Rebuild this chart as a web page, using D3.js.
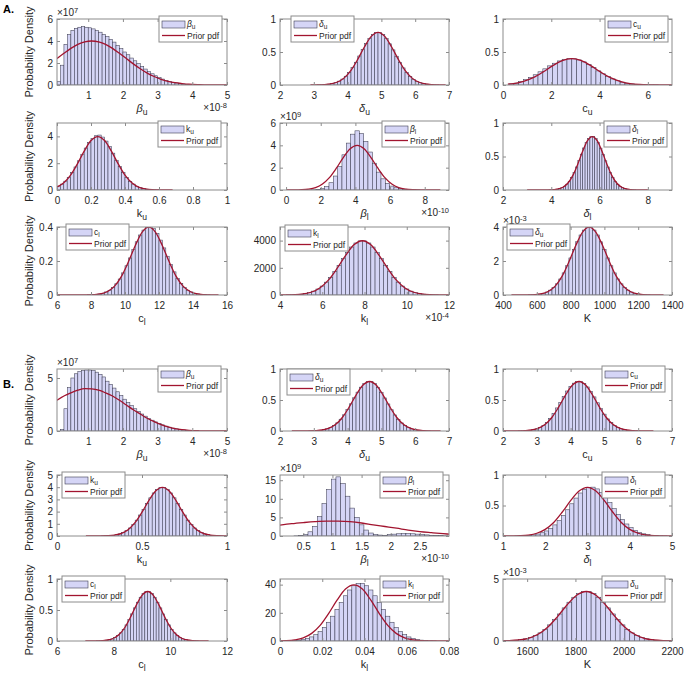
<!DOCTYPE html>
<html><head><meta charset="utf-8">
<script src="https://cdn.jsdelivr.net/npm/d3@7"></script>
<style>
body{margin:0;background:#fff;}
svg{font-family:"Liberation Sans",Arial,Helvetica,sans-serif;}
</style></head><body>
<svg id="c" width="685" height="674"></svg>
<script>
// ---------------- DATA ----------------
// Section A histograms (bin start, bin width, heights)
const hA_bu = [0.3,1.8,3.7,4.6,4.95,5.15,5.25,5.3,5.25,5.2,5.1,4.95,4.8,4.6,4.4,4.15,3.9,3.6,3.3,3.0,2.75,2.45,2.2,1.95,1.7,1.45,1.22,1.02,0.84,0.68,0.54,0.42,0.32,0.24,0.18,0.13,0.09,0.06,0.04,0.03,0.02];
const hA_du = [.002,.003,.006,.012,.022,.036,.058,.09,.133,.19,.262,.345,.44,.535,.628,.708,.766,.797,.795,.764,.703,.624,.532,.436,.343,.259,.188,.13,.087,.056,.034,.02,.012,.006,.003,.001];
const hA_cu = [.018,.028,.05,.08,.115,.155,.2,.245,.29,.33,.365,.39,.40,.398,.38,.35,.31,.262,.214,.17,.128,.092,.064,.043,.027,.017,.01,.006,.003,.002,.001];
const hA_ku = [.29,.44,.66,.95,1.3,1.72,2.18,2.67,3.13,3.55,3.85,4.05,4.1,3.95,3.65,3.25,2.75,2.22,1.74,1.3,.94,.65,.44,.28,.18,.1,.06,.03,.016,.008];
const hA_bl = [.005,.01,.02,.05,.12,.3,.65,1.25,2.1,3.15,4.2,5.0,5.3,5.05,4.35,3.4,2.4,1.6,1.0,.6,.35,.2,.12,.07,.04,.02,.01];
const hA_dl = [.001,.003,.006,.011,.02,.034,.056,.087,.13,.188,.26,.344,.438,.535,.627,.707,.766,.797,.796,.766,.706,.625,.533,.436,.343,.258,.187,.129,.086,.055,.034,.02,.011,.006,.003,.001];
const hA_cl = [.001,.002,.003,.006,.010,.018,.028,.044,.066,.094,.13,.172,.218,.267,.313,.353,.382,.398,.40,.39,.362,.323,.277,.228,.18,.136,.098,.068,.045,.028,.018,.010,.006,.003,.002,.001];
const hA_kl = [8,16,32,60,104,176,284,440,656,944,1300,1720,2184,2668,3132,3528,3824,3980,3980,3824,3528,3132,2668,2184,1720,1300,944,656,440,284,176,104,60,32,16,8];
const hA_K  = [.008,.016,.032,.06,.104,.176,.284,.44,.656,.944,1.3,1.72,2.18,2.67,3.13,3.53,3.82,3.98,3.98,3.82,3.53,3.13,2.67,2.18,1.72,1.3,.944,.656,.44,.284,.176,.104,.06,.032,.016,.008];
// Section B histograms
const hB_bu = [0.15,2.1,4.1,5.0,5.4,5.6,5.7,5.75,5.75,5.7,5.55,5.35,5.1,4.7,4.4,4.05,3.7,3.35,3.0,2.7,2.4,2.1,1.85,1.6,1.4,1.2,1.02,0.86,0.72,0.58,0.46,0.36,0.27,0.2,0.14,0.1,0.07,0.05,0.03,0.02];
const hB_du = [.002,.003,.006,.012,.021,.036,.058,.089,.132,.19,.261,.345,.438,.535,.627,.707,.766,.797,.796,.765,.705,.625,.533,.436,.343,.259,.188,.13,.087,.056,.034,.02,.011,.006,.003,.001];
const hB_cu = [.002,.003,.006,.012,.021,.035,.057,.09,.14,.205,.285,.372,.463,.555,.645,.72,.772,.798,.796,.765,.71,.64,.55,.455,.36,.272,.195,.135,.09,.058,.035,.021,.012,.006,.003,.002];
const hB_ku = [.008,.016,.032,.06,.104,.176,.284,.44,.656,.944,1.3,1.72,2.18,2.67,3.13,3.53,3.82,3.98,3.98,3.82,3.53,3.13,2.67,2.18,1.72,1.3,.944,.656,.44,.284,.176,.104,.06,.032,.016,.008];
const hB_bl = [0,0,0,.03,.13,.42,1.13,2.6,5.2,8.7,12.5,15.3,15.9,14.1,10.7,7.5,5.0,3.0,1.6,.8,.4,.25,.2,.35,.5,.6,.65,.65,.6,.5,.4,.3,.2,.15,.1,.05];
const hB_dl = [.001,.003,.005,.01,.019,.032,.053,.083,.125,.182,.252,.336,.43,.528,.622,.705,.766,.799,.801,.772,.715,.637,.546,.45,.356,.27,.197,.137,.092,.059,.036,.021,.012,.006,.003,.001];
const hB_cl = [.002,.003,.006,.012,.021,.035,.057,.088,.131,.189,.26,.344,.437,.534,.626,.706,.765,.796,.796,.765,.706,.626,.534,.437,.344,.26,.189,.131,.088,.057,.035,.021,.012,.006,.003,.002];
const hB_kl = [.08,.16,.33,.62,1.07,1.8,2.9,4.5,6.7,9.7,13.3,17.6,22.4,27.3,32.1,36.2,39.2,40.8,40.8,39.2,36.2,32.1,27.3,22.4,17.6,13.3,9.7,6.7,4.5,2.9,1.8,1.07,.62,.33,.16,.08];
const hB_K  = [.016,.032,.06,.104,.176,.284,.44,.656,.944,1.3,1.72,2.18,2.67,3.13,3.53,3.82,3.98,3.98,3.82,3.53,3.13,2.67,2.18,1.72,1.3,.944,.656,.44,.284,.176,.104,.06,.032,.016,.008];

// Prior pdf curves [x, y]
const pA_bu = [[0.1,2.4],[0.3,2.88],[0.5,3.33],[0.7,3.69],[0.9,3.92],[1.1,4.0],[1.3,3.92],[1.5,3.69],[1.7,3.33],[1.9,2.88],[2.1,2.4],[2.3,1.92],[2.5,1.47],[2.7,1.08],[2.9,0.77],[3.1,0.52],[3.3,0.34],[3.5,0.21],[3.7,0.13],[3.9,0.07],[4.2,0.03],[4.5,0.01],[5.0,0]];
const pA_du = [[2.9,.0002],[3.1,.0012],[3.3,.005],[3.5,.016],[3.7,.045],[3.9,.108],[4.1,.222],[4.3,.389],[4.5,.579],[4.7,.737],[4.9,.798],[5.1,.737],[5.3,.579],[5.5,.389],[5.7,.222],[5.9,.108],[6.1,.045],[6.3,.016],[6.5,.005],[6.7,.0012],[6.9,.0002]];
const pA_cu = [[0.2,.012],[0.45,.022],[0.85,.054],[1.25,.111],[1.65,.195],[2.05,.29],[2.45,.369],[2.85,.399],[3.25,.369],[3.65,.29],[4.05,.195],[4.45,.111],[4.85,.054],[5.25,.022],[5.65,.008],[6.05,.0024],[6.45,.0006],[6.85,.0001],[7.0,0]];
const pA_ku = [[0,.22],[0.04,.54],[0.08,1.11],[0.12,1.95],[0.16,2.9],[0.2,3.69],[0.24,3.99],[0.28,3.69],[0.32,2.9],[0.36,1.95],[0.4,1.11],[0.44,.54],[0.48,.22],[0.52,.08],[0.56,.024],[0.6,.006],[0.64,.001],[0.68,0]];
const pA_bl = [[0.05,.002],[0.5,.006],[0.9,.024],[1.3,.08],[1.7,.22],[2.1,.54],[2.5,1.11],[2.9,1.95],[3.3,2.9],[3.7,3.69],[4.1,3.99],[4.5,3.69],[4.9,2.9],[5.3,1.95],[5.7,1.11],[6.1,.54],[6.5,.22],[6.9,.08],[7.3,.024],[7.7,.006],[8.1,.001],[8.9,0]];
const pA_dl = [[3.0,0],[3.7,.0002],[3.9,.0012],[4.1,.005],[4.3,.016],[4.5,.045],[4.7,.108],[4.9,.222],[5.1,.389],[5.3,.579],[5.5,.737],[5.7,.798],[5.9,.737],[6.1,.579],[6.3,.389],[6.5,.222],[6.7,.108],[6.9,.045],[7.1,.016],[7.3,.005],[7.5,.0012],[7.7,.0002],[8.0,0]];
const pA_cl = [[6.0,0],[7.4,.0001],[7.8,.0006],[8.2,.0024],[8.6,.008],[9.0,.022],[9.4,.054],[9.8,.111],[10.2,.195],[10.6,.29],[11.0,.369],[11.4,.399],[11.8,.369],[12.2,.29],[12.6,.195],[13.0,.111],[13.4,.054],[13.8,.022],[14.2,.008],[14.6,.0024],[15.0,.0006],[15.5,0]];
const pA_kl = [[4.0,2],[4.3,6],[4.7,24],[5.1,80],[5.5,220],[5.9,540],[6.3,1110],[6.7,1950],[7.1,2900],[7.5,3690],[7.9,3990],[8.3,3690],[8.7,2900],[9.1,1950],[9.5,1110],[9.9,540],[10.3,220],[10.7,80],[11.1,24],[11.5,6],[12.0,1]];
const pA_K  = [[450,0],[510,.001],[550,.006],[590,.024],[630,.08],[670,.22],[710,.54],[750,1.11],[790,1.95],[830,2.9],[870,3.69],[910,3.99],[950,3.69],[990,2.9],[1030,1.95],[1070,1.11],[1110,.54],[1150,.22],[1190,.08],[1230,.024],[1270,.006],[1310,.001],[1350,0]];
const pB_bu = [[0.1,2.9],[0.3,3.3],[0.5,3.6],[0.7,3.85],[0.9,4.0],[1.1,3.97],[1.3,3.85],[1.5,3.6],[1.7,3.3],[1.9,2.9],[2.1,2.45],[2.3,2.0],[2.5,1.6],[2.7,1.2],[2.9,0.88],[3.1,0.6],[3.3,0.38],[3.5,0.22],[3.7,0.12],[3.9,0.06],[4.2,0.02],[4.5,0.005],[5.0,0]];
const pB_du = [[2.35,0],[2.65,.0002],[2.85,.0012],[3.05,.005],[3.25,.016],[3.45,.045],[3.65,.108],[3.85,.222],[4.05,.389],[4.25,.579],[4.45,.737],[4.65,.798],[4.85,.737],[5.05,.579],[5.25,.389],[5.45,.222],[5.65,.108],[5.85,.045],[6.05,.016],[6.25,.005],[6.45,.0012],[6.65,.0002],[6.75,0]];
const pB_cu = [[2.0,0],[2.25,.0002],[2.45,.0012],[2.65,.005],[2.85,.016],[3.05,.045],[3.25,.108],[3.45,.222],[3.65,.389],[3.85,.579],[4.05,.737],[4.25,.798],[4.45,.737],[4.65,.579],[4.85,.389],[5.05,.222],[5.25,.108],[5.45,.045],[5.65,.016],[5.85,.005],[6.05,.0012],[6.25,.0002],[6.45,0]];
const pB_ku = [[0.17,0],[0.22,.001],[0.26,.006],[0.3,.024],[0.34,.08],[0.38,.22],[0.42,.54],[0.46,1.11],[0.5,1.95],[0.54,2.9],[0.58,3.69],[0.62,3.99],[0.66,3.69],[0.7,2.9],[0.74,1.95],[0.78,1.11],[0.82,.54],[0.86,.22],[0.9,.08],[0.94,.024],[0.98,.006],[1.0,.003]];
const pB_bl = [[0.1,2.9],[0.3,3.3],[0.5,3.6],[0.7,3.85],[0.9,3.98],[1.1,3.98],[1.3,3.85],[1.5,3.5],[1.7,3.0],[1.9,2.55],[2.1,2.1],[2.3,1.6],[2.5,1.2],[2.7,0.9],[2.9,0.62],[3.0,0.5]];
const pB_dl = [[1.0,.0002],[1.2,.0012],[1.4,.005],[1.6,.016],[1.8,.045],[2.0,.108],[2.2,.222],[2.4,.389],[2.6,.579],[2.8,.737],[3.0,.798],[3.2,.737],[3.4,.579],[3.6,.389],[3.8,.222],[4.0,.108],[4.2,.045],[4.4,.016],[4.6,.005],[4.8,.0012],[5.0,.0002]];
const pB_cl = [[7.0,0],[7.2,.0002],[7.4,.0012],[7.6,.005],[7.8,.016],[8.0,.045],[8.2,.108],[8.4,.222],[8.6,.389],[8.8,.579],[9.0,.737],[9.2,.798],[9.4,.737],[9.6,.579],[9.8,.389],[10.0,.222],[10.2,.108],[10.4,.045],[10.6,.016],[10.8,.005],[11.0,.0012],[11.2,.0002],[11.35,0]];
const pB_kl = [[0,.09],[0.003,.24],[0.007,.8],[0.011,2.2],[0.015,5.4],[0.019,11.1],[0.023,19.5],[0.027,29],[0.031,36.9],[0.035,39.9],[0.039,36.9],[0.043,29],[0.047,19.5],[0.051,11.1],[0.055,5.4],[0.059,2.2],[0.063,.8],[0.067,.24],[0.071,.06],[0.075,.01],[0.08,0]];
const pB_K  = [[1500,.01],[1525,.024],[1565,.08],[1605,.22],[1645,.54],[1685,1.11],[1725,1.95],[1765,2.9],[1805,3.69],[1845,3.99],[1885,3.69],[1925,2.9],[1965,1.95],[2005,1.11],[2045,.54],[2085,.22],[2125,.08],[2165,.024],[2200,.007]];

// Tick labels
const xtA_bu=[1,2,3,4,5], ytA_bu=[0,2,4,6];
const xtA_du=[2,3,4,5,6,7], ytA_du=[0,0.5,1];
const xtA_cu=[0,2,4,6], ytA_cu=[0,0.5,1];
const xtA_ku=[0,0.2,0.4,0.6,0.8,1], ytA_ku=[0,2,4];
const xtA_bl=[0,2,4,6,8], ytA_bl=[0,2,4,6];
const xtA_dl=[2,4,6,8], ytA_dl=[0,0.5,1];
const xtA_cl=[6,8,10,12,14,16], ytA_cl=[0,0.2,0.4];
const xtA_kl=[4,6,8,10,12], ytA_kl=[0,2000,4000];
const xtA_K=[400,600,800,1000,1200,1400], ytA_K=[0,2,4];
const xtB_bu=[1,2,3,4,5], ytB_bu=[0,5];
const xtB_du=[2,3,4,5,6,7], ytB_du=[0,0.5,1];
const xtB_cu=[2,3,4,5,6,7], ytB_cu=[0,0.5,1];
const xtB_ku=[0,0.5,1], ytB_ku=[0,1,2,3,4,5];
const xtB_bl=[0.5,1,1.5,2,2.5], ytB_bl=[0,5,10,15];
const xtB_dl=[1,2,3,4,5], ytB_dl=[0,0.5,1];
const xtB_cl=[6,8,10,12], ytB_cl=[0,0.5,1];
const xtB_kl=[0,0.02,0.04,0.06,0.08], ytB_kl=[0,20,40];
const xtB_K=[1600,1800,2000,2200], ytB_K=[0,5];

// Labels: [symbol, subscript, italic]
const names = {bu:['β','u',1], du:['δ','u',1], cu:['c','u',0], ku:['k','u',0], bl:['β','l',1], dl:['δ','l',1], cl:['c','l',0], kl:['k','l',0], K:['K','',0]};

// ---------------- LAYOUT ----------------
const cols = [[57,227],[280,449],[503,672]];
const rows = [[19,85],[123,190],[227,295],[369,431],[475,536],[579,641]];

const panels = [
 {r:0,c:0,xd:[0.1,5],xt:xtA_bu,yd:[0,6],yt:ytA_bu,h:hA_bu,h0:0.1,hw:0.1,p:pA_bu,leg:[159,16],nm:'bu',ln:'bu',yexp:'7',xexp:'-8'},
 {r:0,c:1,xd:[2,7],xt:xtA_du,yd:[0,1],yt:ytA_du,h:hA_du,h0:3.1,hw:0.1,p:pA_du,leg:[291,16],nm:'du',ln:'du'},
 {r:0,c:2,xd:[0,7],xt:xtA_cu,yd:[0,1],yt:ytA_cu,h:hA_cu,h0:0.25,hw:0.2,p:pA_cu,leg:[605,16],nm:'cu',ln:'cu'},
 {r:1,c:0,xd:[0,1],xt:xtA_ku,yd:[0,5],yt:ytA_ku,h:hA_ku,h0:0,hw:0.02,p:pA_ku,leg:[158,121],nm:'ku',ln:'ku'},
 {r:1,c:1,xd:[-0.35,9.4],xt:xtA_bl,yd:[0,6],yt:ytA_bl,h:hA_bl,h0:0.975,hw:0.25,p:pA_bl,leg:[382,121],nm:'bl',ln:'bl',yexp:'9',xexp:'-10'},
 {r:1,c:2,xd:[2,9],xt:xtA_dl,yd:[0,1],yt:ytA_dl,h:hA_dl,h0:3.9,hw:0.1,p:pA_dl,leg:[604,121],nm:'dl',ln:'dl'},
 {r:2,c:0,xd:[6,16],xt:xtA_cl,yd:[0,0.4],yt:ytA_cl,h:hA_cl,h0:7.8,hw:0.2,p:pA_cl,leg:[66,224],nm:'cl',ln:'cl'},
 {r:2,c:1,xd:[4,12],xt:xtA_kl,yd:[0,5000],yt:ytA_kl,h:hA_kl,h0:4.3,hw:0.2,p:pA_kl,leg:[285,225],nm:'kl',ln:'kl',xexp:'-4'},
 {r:2,c:2,xd:[400,1400],xt:xtA_K,yd:[0,4],yt:ytA_K,h:hA_K,h0:550,hw:20,p:pA_K,leg:[507,224],nm:'K',ln:'du',yexp:'-3'},
 {r:3,c:0,xd:[0.1,5],xt:xtB_bu,yd:[0,5.85],yt:ytB_bu,h:hB_bu,h0:0.2,hw:0.1,p:pB_bu,leg:[158,366],nm:'bu',ln:'bu',yexp:'7',xexp:'-8'},
 {r:3,c:1,xd:[2,7],xt:xtB_du,yd:[0,1],yt:ytB_du,h:hB_du,h0:2.85,hw:0.1,p:pB_du,leg:[287,369],nm:'du',ln:'du'},
 {r:3,c:2,xd:[2,7],xt:xtB_cu,yd:[0,1],yt:ytB_cu,h:hB_cu,h0:2.45,hw:0.1,p:pB_cu,leg:[602,366],nm:'cu',ln:'cu'},
 {r:4,c:0,xd:[0,1],xt:xtB_ku,yd:[0,5],yt:ytB_ku,h:hB_ku,h0:0.26,hw:0.02,p:pB_ku,leg:[62,472],nm:'ku',ln:'ku'},
 {r:4,c:1,xd:[0.1,3.0],xt:xtB_bl,yd:[0,16.4],yt:ytB_bl,h:hB_bl,h0:0.1,hw:0.08,p:pB_bl,leg:[380,472],nm:'bl',ln:'bl',yexp:'9',xexp:'-10'},
 {r:4,c:2,xd:[1,5],xt:xtB_dl,yd:[0,1],yt:ytB_dl,h:hB_dl,h0:1.28,hw:0.1,p:pB_dl,leg:[602,472],nm:'dl',ln:'dl'},
 {r:5,c:0,xd:[6,12],xt:xtB_cl,yd:[0,1],yt:ytB_cl,h:hB_cl,h0:7.4,hw:0.1,p:pB_cl,leg:[62,576],nm:'cl',ln:'cl'},
 {r:5,c:1,xd:[0,0.08],xt:xtB_kl,yd:[0,44],yt:ytB_kl,h:hB_kl,h0:0.002,hw:0.002,p:pB_kl,leg:[380,576],nm:'kl',ln:'kl'},
 {r:5,c:2,xd:[1500,2200],xt:xtB_K,yd:[0,5],yt:ytB_K,h:hB_K,h0:1505,hw:20,p:pB_K,leg:[602,576],nm:'K',ln:'du',yexp:'-3'}
];

// ---------------- DRAW ----------------
const svg = d3.select('#c');
const FRAME = '#8c8c8c', TXT = '#262626', FILL = '#d5d5f6', EDGE = '#3d3d52', RED = '#a2142f';
const fmt = d3.format('~g');

function sym(sel, key){
  const n = names[key];
  sel.append('tspan').text(n[0]).attr('font-style', n[2] ? 'italic' : null);
  if (n[1]) sel.append('tspan').text(n[1]).attr('dy', '0.32em').attr('font-size', '78%');
}
function expo(sel, e){
  sel.append('tspan').text('\u00d710');
  sel.append('tspan').text(e).attr('dy', '-0.45em').attr('font-size', '75%');
}

svg.append('text').attr('x',3).attr('y',13).attr('font-size',11).attr('font-weight','bold').attr('fill','#000').text('A.');
svg.append('text').attr('x',3).attr('y',388).attr('font-size',11).attr('font-weight','bold').attr('fill','#000').text('B.');

panels.forEach((P, i) => {
  const [x0, x1] = cols[P.c], [y0, y1] = rows[P.r];
  const x = d3.scaleLinear().domain(P.xd).range([x0, x1]);
  const y = d3.scaleLinear().domain(P.yd).range([y1, y0]);
  const g = svg.append('g');
  const cid = 'clip' + i;
  g.append('clipPath').attr('id', cid).append('rect').attr('x', x0).attr('y', y0).attr('width', x1 - x0).attr('height', y1 - y0);
  const plot = g.append('g').attr('clip-path', `url(#${cid})`);

  // histogram bars
  const bins = P.h.map((v, k) => ({a: P.h0 + k * P.hw, b: P.h0 + (k + 1) * P.hw, v}));
  plot.selectAll('rect.bar').data(bins).join('rect').attr('class','bar')
    .attr('x', d => x(d.a)).attr('width', d => Math.max(0, x(d.b) - x(d.a)))
    .attr('y', d => y(d.v)).attr('height', d => y(0) - y(d.v))
    .attr('fill', FILL).attr('stroke', EDGE).attr('stroke-width', 0.55);

  // prior pdf
  const line = d3.line().x(d => x(d[0])).y(d => y(d[1])).curve(d3.curveMonotoneX);
  plot.append('path').datum(P.p).attr('d', line).attr('fill','none').attr('stroke', RED).attr('stroke-width', 1.3);

  // axes (inward ticks on all four sides)
  const styleAx = s => {
    s.select('.domain').remove();
    s.selectAll('line').attr('stroke', FRAME);
    s.selectAll('text').attr('fill', TXT).attr('font-size', 10).attr('font-family', '"Liberation Sans",Arial,sans-serif');
  };
  g.append('g').attr('transform', `translate(0,${y1})`).call(d3.axisBottom(x).tickValues(P.xt).tickFormat(fmt).tickSize(-3).tickPadding(7)).call(styleAx);
  g.append('g').attr('transform', `translate(0,${y0})`).call(d3.axisTop(x).tickValues(P.xt).tickFormat('').tickSize(-3)).call(styleAx);
  g.append('g').attr('transform', `translate(${x0},0)`).call(d3.axisLeft(y).tickValues(P.yt).tickFormat(fmt).tickSize(-3).tickPadding(4)).call(styleAx);
  g.append('g').attr('transform', `translate(${x1},0)`).call(d3.axisRight(y).tickValues(P.yt).tickFormat('').tickSize(-3)).call(styleAx);
  g.append('rect').attr('x', x0).attr('y', y0).attr('width', x1 - x0).attr('height', y1 - y0)
    .attr('fill','none').attr('stroke', FRAME).attr('stroke-width', 1);

  // x label
  const xl = g.append('text').attr('x', (x0 + x1) / 2).attr('y', y1 + 27).attr('text-anchor','middle')
    .attr('font-size', 11).attr('fill', TXT);
  sym(xl, P.nm);

  // exponents
  if (P.yexp) expo(g.append('text').attr('x', x0).attr('y', y0 - 3).attr('font-size', 10).attr('fill', TXT), P.yexp);
  if (P.xexp) expo(g.append('text').attr('x', x1).attr('y', y1 + 26).attr('text-anchor','end').attr('font-size', 10).attr('fill', TXT), P.xexp);

  // y label (first column)
  if (P.c === 0) {
    g.append('text').attr('transform', `translate(29,${(y0 + y1) / 2}) rotate(-90)`)
      .attr('text-anchor','middle').attr('dominant-baseline','central')
      .attr('font-size', 11).attr('fill', TXT).text('Probability Density');
  }

  // legend
  const [lx, ly] = P.leg, lw = 63, lh = 26;
  const lg = g.append('g');
  lg.append('rect').attr('x', lx).attr('y', ly).attr('width', lw).attr('height', lh).attr('fill','#fff').attr('stroke', FRAME).attr('stroke-width', 1);
  lg.append('rect').attr('x', lx + 3).attr('y', ly + 5).attr('width', 23).attr('height', 7).attr('fill', FILL).attr('stroke', EDGE).attr('stroke-width', 0.6);
  lg.append('line').attr('x1', lx + 3).attr('x2', lx + 26).attr('y1', ly + 19.5).attr('y2', ly + 19.5).attr('stroke', RED).attr('stroke-width', 1.3);
  const t1 = lg.append('text').attr('x', lx + 28).attr('y', ly + 10.5).attr('font-size', 8.5).attr('fill', TXT);
  sym(t1, P.ln);
  lg.append('text').attr('x', lx + 28).attr('y', ly + 22.5).attr('font-size', 8.5).attr('fill', TXT).text('Prior pdf');
});
</script>
</body></html>
